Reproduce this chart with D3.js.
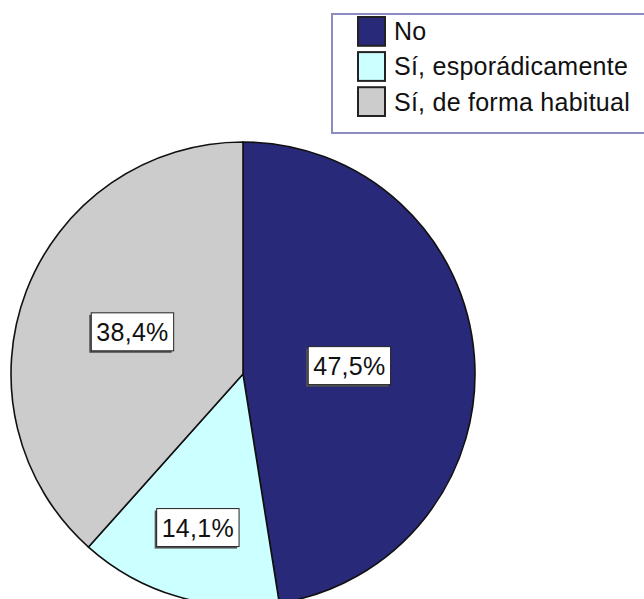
<!DOCTYPE html>
<html>
<head>
<meta charset="utf-8">
<script src="https://cdn.jsdelivr.net/npm/d3@7"></script>
<style>
  body { margin: 0; background: #fff; }
  svg { display: block; }
</style>
</head>
<body>
<div id="chart"></div>
<script>
// Data
const categories = ["No", "Sí, esporádicamente", "Sí, de forma habitual"];
const percentages = [47.5, 14.1, 38.4];
const valueLabels = ["47,5%", "14,1%", "38,4%"];
const sliceColors = ["#29297a", "#ccffff", "#cccccc"];
// how far out along the slice each label sits (fraction of radius)
const labelOffsets = [0.46, 0.69, 0.51];

const width = 644;
const height = 599;
const radius = 232;
const cx = 243;
const cy = 374;
const fontFamily = "'Liberation Sans', Arial, sans-serif";

const svg = d3
  .select("#chart")
  .append("svg")
  .attr("width", width)
  .attr("height", height);

const pie = d3.pie().sort(null).value((d) => d);
const arcs = pie(percentages);
const arc = d3.arc().innerRadius(0).outerRadius(radius);

const g = svg.append("g").attr("transform", `translate(${cx},${cy})`);

// Slices
g.selectAll("path.slice")
  .data(arcs)
  .enter()
  .append("path")
  .attr("class", "slice")
  .attr("d", arc)
  .attr("fill", (d, i) => sliceColors[i])
  .attr("stroke", "#111")
  .attr("stroke-width", 1.6)
  .attr("stroke-linejoin", "round");

// Value labels in boxes
const labelGroups = g
  .selectAll("g.value-label")
  .data(arcs)
  .enter()
  .append("g")
  .attr("class", "value-label")
  .attr("transform", (d, i) => {
    const r = radius * labelOffsets[i];
    const [x, y] = d3.arc().innerRadius(r).outerRadius(r).centroid(d);
    return `translate(${x},${y})`;
  });

labelGroups.each(function (d, i) {
  const group = d3.select(this);
  const text = group
    .append("text")
    .attr("text-anchor", "middle")
    .attr("dy", "0.36em")
    .attr("font-family", fontFamily)
    .attr("font-size", "25px")
    .attr("letter-spacing", "0.3px")
    .attr("fill", "#111")
    .text(valueLabels[i]);
  const w = text.node().getBBox().width + 10;
  const h = 38;
  // shadow on the lower-left, then the white box
  group
    .insert("rect", "text")
    .attr("x", -w / 2 - 2)
    .attr("y", -h / 2 + 2)
    .attr("width", w)
    .attr("height", h)
    .attr("fill", "#555");
  group
    .insert("rect", "text")
    .attr("x", -w / 2)
    .attr("y", -h / 2)
    .attr("width", w)
    .attr("height", h)
    .attr("fill", "#fff")
    .attr("stroke", "#222")
    .attr("stroke-width", 1);
});

// Legend
const legend = svg.append("g").attr("class", "legend");

legend
  .append("rect")
  .attr("x", 332)
  .attr("y", 14)
  .attr("width", 330)
  .attr("height", 119)
  .attr("fill", "#fff")
  .attr("stroke", "#8c8cc0")
  .attr("stroke-width", 2);

const rowY = d3.scaleBand().domain(categories).range([17, 116]).paddingInner(0.18);

const items = legend
  .selectAll("g.legend-item")
  .data(categories)
  .enter()
  .append("g")
  .attr("class", "legend-item")
  .attr("transform", (d) => `translate(358,${rowY(d)})`);

items
  .append("rect")
  .attr("width", 27)
  .attr("height", rowY.bandwidth())
  .attr("fill", (d, i) => sliceColors[i])
  .attr("stroke", "#222")
  .attr("stroke-width", 2);

items
  .append("text")
  .attr("x", 36)
  .attr("y", rowY.bandwidth() / 2)
  .attr("dy", "0.36em")
  .attr("font-family", fontFamily)
  .attr("font-size", "25px")
  .attr("letter-spacing", "0.25px")
  .attr("fill", "#111")
  .text((d) => d);
</script>
</body>
</html>
